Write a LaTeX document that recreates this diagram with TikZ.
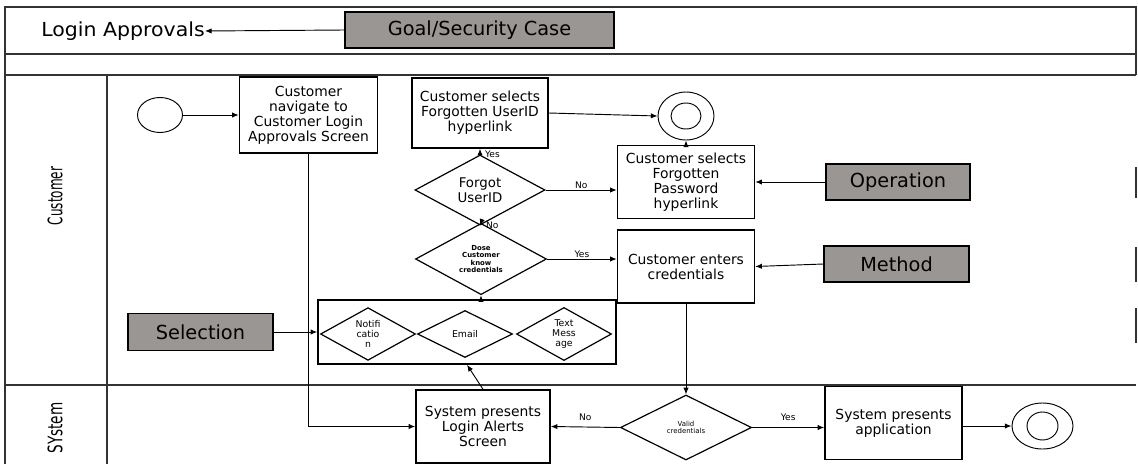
\documentclass[tikz,border=0pt]{standalone}
\usepackage{fontspec}
\usepackage{graphicx}
\setmainfont{DejaVu Sans}
\usepackage{tikz}
\usetikzlibrary{arrows.meta,positioning,shapes.geometric}
\definecolor{slate}{HTML}{9A9693}
\definecolor{rule}{HTML}{333333}
\tikzset{
  >={Latex[length=5pt,width=4pt]},
  flow/.style={->,line width=0.7pt,draw=black},
  lane/.style={draw=rule,line width=0.8pt},
  stepbox/.style={draw,line width=1.1pt,align=center,inner sep=1pt,
    font=\fontsize{10.4}{11.2}\selectfont},
  greybox/.style={draw,line width=0.9pt,fill=slate,inner sep=1pt,
    font=\fontsize{14.5}{15}\selectfont},
  choice/.style={diamond,draw,line width=0.9pt,align=center,inner sep=0pt},
  ring/.style={ellipse,draw,line width=0.7pt,inner sep=0pt},
  tag/.style={inner sep=1.5pt,font=\fontsize{6.8}{7}\selectfont},
  lanetag/.style={rotate=90,inner sep=0pt,font=\fontsize{15}{15}\selectfont}
}

\begin{document}
\begin{tikzpicture}[x=0.75pt,y=-0.75pt]
  \useasboundingbox (0,0) rectangle (1138,464);
  \draw[lane] (5,464) -- (5,7) -- (1136,7) -- (1136,75);
  \draw[lane] (5,54) -- (1136,54);
  \draw[lane] (5,75) -- (1136,75);
  \draw[lane] (5,385) -- (1136,385);
  \draw[lane] (107,75) -- (107,464);
  \foreach \a/\b in {167/198,247/282,308/343} \draw[lane] (1136,\a) -- (1136,\b);

  \node[anchor=west,inner sep=0pt,font=\fontsize{14.5}{15}\selectfont] (login) at (41,31) {\scalebox{1.06}[1]{Login Approvals}};
  \node[greybox,minimum width=201.75pt,minimum height=27pt] (goal) at (479.5,30) {Goal/Security Case};
  \node[lanetag] (cust) at (55,196) {\scalebox{0.6}[1]{Customer}};
  \node[lanetag] (sys) at (55,428) {\scalebox{0.68}[1]{SYstem}};

  \node[ring,minimum width=33.75pt,minimum height=26.25pt] (start) at (160,115) {};
  \node[stepbox,minimum width=103.5pt,minimum height=57pt] (nav) at (308.5,115) {Customer\\navigate to\\Customer Login\\Approvals Screen};
  \node[stepbox,minimum width=102pt,minimum height=52.5pt] (uid) at (480,113) {Customer selects\\Forgotten UserID\\hyperlink};
  \node[choice,minimum width=97.5pt,minimum height=52.5pt,font=\fontsize{10}{11}\selectfont] (forgot) at (480,190) {Forgot\\UserID};
  \node[choice,minimum width=98.25pt,minimum height=48pt,font=\bfseries\fontsize{5.2}{5.6}\selectfont] (know) at (481,259) {Dose\\Customer\\know\\credentials};
  \node[ring,minimum width=42pt,minimum height=36pt] (endA) at (686,116) {};
  \node[ring,minimum width=22.5pt,minimum height=19.5pt] (endAin) at (endA) {};
  \node[stepbox,minimum width=102.75pt,minimum height=54.75pt] (pwd) at (686,182) {Customer selects\\Forgotten\\Password\\hyperlink};
  \node[stepbox,minimum width=102.75pt,minimum height=54.75pt] (enter) at (686,266.5) {Customer enters\\credentials};
  \node[greybox,minimum width=108pt,minimum height=27pt] (op) at (898,182) {Operation};
  \node[greybox,minimum width=108.75pt,minimum height=27pt] (method) at (896.5,264) {Method};
  \node[draw,line width=1.1pt,minimum width=223.5pt,minimum height=48pt] (media) at (467,332) {};
  \foreach \n/\x/\t in {notif/368/Notifi\\catio\\n,email/465/Email,text/564/Text\\Mess\\age}
    \node[choice,minimum width=71.25pt,minimum height=35.25pt,font=\fontsize{7}{7.8}\selectfont] (\n) at (\x,334) {\t};
  \node[greybox,minimum width=108.75pt,minimum height=27.75pt] (sel) at (200.5,332) {Selection};

  \node[stepbox,minimum width=100.5pt,minimum height=54.75pt] (alerts) at (483,426.5) {System presents\\Login Alerts\\Screen};
  \node[choice,minimum width=98.25pt,minimum height=48.75pt,font=\fontsize{5.2}{5.8}\selectfont] (valid) at (686,427.5) {Valid\\credentials};
  \node[stepbox,minimum width=102.75pt,minimum height=54.75pt] (app) at (893.5,423) {System presents\\application};
  \node[ring,minimum width=45.75pt,minimum height=34.5pt] (endB) at (1042.5,426) {};
  \node[ring,minimum width=23.25pt,minimum height=21pt] (endBin) at (endB) {};

  \draw[flow] (goal.west) -- (login.east);
  \draw[flow] (start.east) -- (nav.west);
  \draw[flow] (nav.south) |- (alerts.west);
  \draw[flow] (uid.east) -- (endA.west);
  \draw[flow] (forgot.north) -- node[tag,right,pos=0,xshift=2pt]{Yes} (uid.south);
  \draw[flow] (know.north) -- node[tag,right,pos=0,xshift=2pt,yshift=-2pt]{No} (forgot.south);
  \draw[flow] (forgot.east) -- node[tag,above=-1pt]{No} (forgot.east -| pwd.west);
  \draw[flow] (know.east) -- node[tag,above=-1pt]{Yes} (know.east -| enter.west);
  \draw[flow] (pwd.north) -- (endA.south);
  \draw[flow] (op.west) -- (pwd.east);
  \draw[flow] (method.west) -- (enter.east);
  \draw[flow] (media.north -| know.south) -- (know.south);
  \draw[flow] (sel.east) -- (media.west);
  \draw[flow] (alerts.north) -- (media.south);
  \draw[flow] (enter.south) -- (valid.north);
  \draw[flow] (valid.west) -- node[tag,above=3pt]{No} (alerts.east);
  \draw[flow] (valid.east) -- node[tag,above=3pt]{Yes} (valid.east -| app.west);
  \draw[flow] (app.east |- endB.west) -- (endB.west);
\end{tikzpicture}
\end{document}
